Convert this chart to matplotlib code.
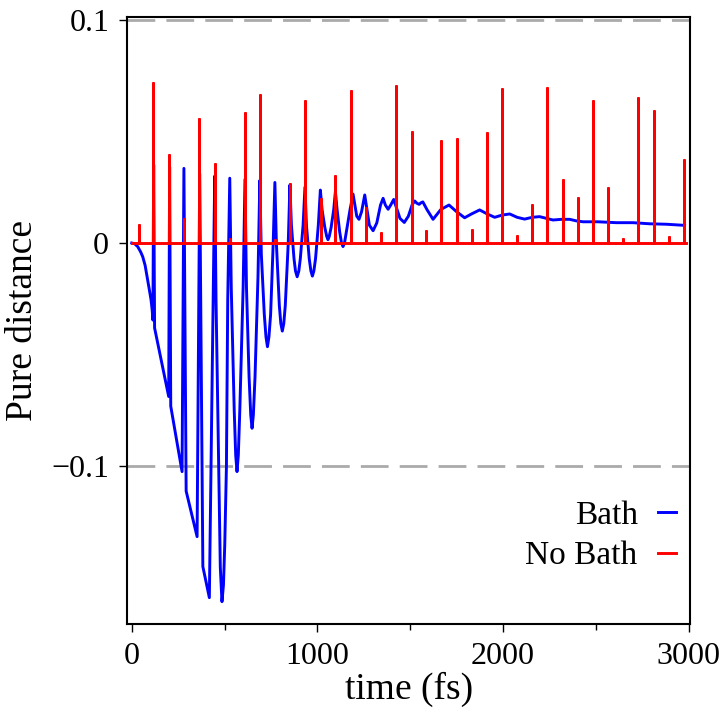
import numpy as np
import matplotlib
matplotlib.use('Agg')
import matplotlib.pyplot as plt

plt.rcParams.update({
    'font.family': ['Liberation Serif', 'DejaVu Serif'],
    'mathtext.fontset': 'stix',
    'axes.unicode_minus': True,
})

# No Bath: spikes (time in fs, height)
nobath_t = [38, 117, 201, 282, 363, 447, 528, 608, 690, 771, 852, 933, 1018,
            1097, 1181, 1262, 1342, 1423, 1508, 1587, 1668, 1752, 1833, 1913,
            1997, 2075, 2158, 2239, 2323, 2404, 2484, 2565, 2646, 2729, 2811,
            2894, 2973]
nobath_h = [0.0081, 0.0716, 0.0395, 0.0106, 0.0556, 0.0353, 0.0018, 0.0580,
            0.0662, 0.0015, 0.0263, 0.0634, 0.0197, 0.0298, 0.0682, 0.0157,
            0.0046, 0.0702, 0.0496, 0.0054, 0.0458, 0.0467, 0.0060, 0.0491,
            0.0689, 0.0033, 0.0171, 0.0692, 0.0283, 0.0203, 0.0637, 0.0247,
            0.0019, 0.0650, 0.0592, 0.0028, 0.0373]
nobath_end = 2988

# Bath: pure distance curve
bath_t = [0, 15, 32, 48, 59, 72, 86, 97, 104, 110, 114,
          118, 123, 199, 204, 210, 271, 281, 293, 352, 366, 383, 418,
          447, 454, 468, 477, 486, 494, 501, 510, 517, 528,
          536, 552, 560, 567, 574, 582, 600, 610,
          618, 632, 641, 648, 655, 664, 680, 690,
          698, 714, 723, 731, 739, 748, 762, 771,
          779, 795, 803, 811, 819, 827, 843, 852,
          860, 874, 882, 891, 900, 908, 923, 933,
          941, 956, 965, 973, 981, 990, 1005, 1016,
          1025, 1040, 1050, 1057, 1064, 1074, 1088, 1097,
          1106, 1120, 1130, 1138, 1146, 1158, 1176, 1192,
          1200, 1212, 1224, 1238, 1255, 1265, 1280, 1300, 1320, 1340, 1354,
          1366, 1381, 1395, 1411, 1425, 1445, 1468, 1490, 1510, 1524, 1536,
          1548, 1558, 1568, 1590, 1623, 1665, 1709, 1750, 1793, 1830, 1874,
          1915, 1955, 1995, 2036, 2076, 2116, 2157, 2197, 2235, 2269, 2315,
          2359, 2395, 2431, 2511, 2560, 2610, 2700, 2790, 2880, 2978]
bath_v = [0.0, -0.0003, -0.0016, -0.0040, -0.0061, -0.0100, -0.0166, -0.0220,
          -0.0255, -0.0300, -0.0345,
          0.035, -0.038, -0.0687, 0.034, -0.073, -0.1023, 0.0334, -0.111,
          -0.1314, 0.031, -0.1448, -0.1587,
          0.030, -0.0255, -0.100, -0.145, -0.1605, -0.153, -0.135, -0.100,
          -0.0255, 0.029,
          -0.020, -0.075, -0.095, -0.1023, -0.095, -0.075, -0.020, 0.0285,
          -0.020, -0.060, -0.077, -0.0829, -0.077, -0.060, -0.015, 0.028,
          -0.005, -0.032, -0.042, -0.0464, -0.042, -0.032, 0.0, 0.0271,
          0.0, -0.028, -0.036, -0.0394, -0.036, -0.028, 0.0, 0.026,
          0.008, -0.007, -0.0125, -0.0151, -0.0125, -0.007, 0.008, 0.025,
          0.008, -0.007, -0.0125, -0.0148, -0.0125, -0.007, 0.008, 0.0237,
          0.015, 0.007, 0.003, 0.0015, 0.003, 0.007, 0.015, 0.023,
          0.015, 0.005, 0.0, -0.0016, 0.0, 0.006, 0.015, 0.0219,
          0.018, 0.012, 0.0106, 0.014, 0.0215, 0.016, 0.008, 0.0055, 0.009,
          0.017, 0.020,
          0.017, 0.0151, 0.017, 0.0195, 0.016, 0.011, 0.0092, 0.012, 0.017,
          0.0188, 0.0178,
          0.0173, 0.018, 0.0184, 0.015, 0.0106, 0.015, 0.017, 0.014, 0.0113,
          0.013, 0.0148,
          0.013, 0.0115, 0.0125, 0.013, 0.0115, 0.0107, 0.0115, 0.0118,
          0.011, 0.0103, 0.0106,
          0.0106, 0.0099, 0.0095, 0.0095, 0.0093, 0.0091, 0.0091, 0.0086,
          0.0084, 0.0079]

x_ticks = [0, 1000, 2000, 3000]
y_ticks = [-0.1, 0, 0.1]
y_ticklabels = ['\u22120.1', '0', '0.1']

# build the red spike polyline from the spike list
t_arr = np.asarray(nobath_t, dtype=float)
h_arr = np.asarray(nobath_h, dtype=float)
red_x = np.concatenate([[0.0], np.repeat(t_arr, 3), [nobath_end]])
red_y = np.concatenate([[0.0], np.column_stack([np.zeros_like(h_arr), h_arr,
                                                np.zeros_like(h_arr)]).ravel(), [0.0]])

fig = plt.figure(figsize=(7.2, 7.15), dpi=100)
ax = fig.add_axes([0.1768, 0.1269, 0.7815, 0.8489])

# gray dashed reference lines at +-0.1
for yv in (0.1, -0.1):
    ax.axhline(yv, color='#aaaaaa', lw=2, dashes=(10, 4), zorder=1)

ax.plot(bath_t, bath_v, color='#0000ff', lw=2.1, label='Bath', zorder=2)
ax.plot(red_x, red_y, color='#ff0000', lw=2.1, label='No Bath', zorder=3)

ax.set_xlim(-24, 3007)
ax.set_ylim(-0.1706, 0.101)

ax.set_xticks(x_ticks)
ax.set_xticks([500, 1500, 2500], minor=True)
ax.set_yticks(y_ticks)
ax.set_yticklabels(y_ticklabels)
ax.tick_params(which='major', direction='out', length=6, width=1, labelsize=23, pad=7)
ax.tick_params(which='minor', direction='out', length=4, width=1)

for sp in ax.spines.values():
    sp.set_linewidth(1.5)

ax.set_xlabel('time (fs)', fontsize=27, labelpad=0)
ax.set_ylabel('Pure distance', fontsize=27, labelpad=8)

ax.legend(loc='lower right', bbox_to_anchor=(0.975, 0.087), frameon=False,
          markerfirst=False, handlelength=0.55, handletextpad=0.6,
          labelspacing=0.3, fontsize=24, borderpad=0, borderaxespad=0)

fig.savefig('out.png', dpi=100)
